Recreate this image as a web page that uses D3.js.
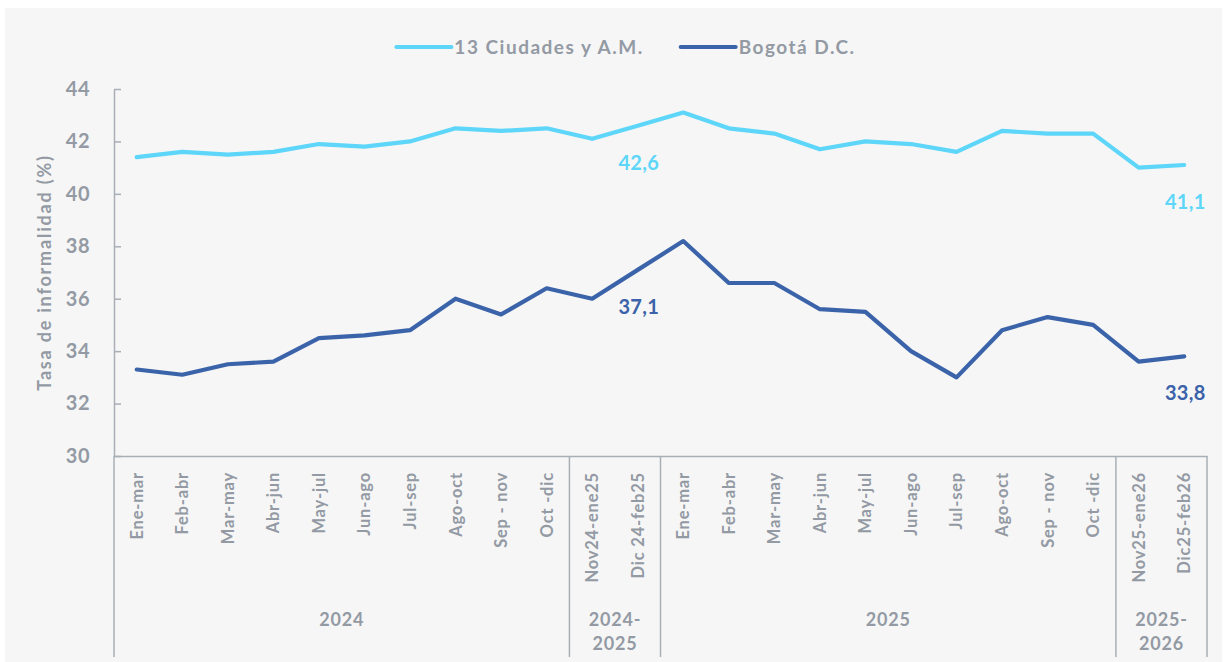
<!DOCTYPE html>
<html>
<head>
<meta charset="utf-8">
<script src="https://cdn.jsdelivr.net/npm/d3@7"></script>
<style>
  html, body { margin: 0; padding: 0; background: #fff; }
  svg { display: block; }
  text { font-family: Lato, 'Open Sans', sans-serif; }
</style>
</head>
<body>
<div id="chart"></div>
<script>
// categories (trimestres moviles)
var categories = [
  'Ene-mar', 'Feb-abr', 'Mar-may', 'Abr-jun', 'May-jul', 'Jun-ago', 'Jul-sep', 'Ago-oct', 'Sep - nov', 'Oct -dic',
  'Nov24-ene25', 'Dic 24-feb25',
  'Ene-mar', 'Feb-abr', 'Mar-may', 'Abr-jun', 'May-jul', 'Jun-ago', 'Jul-sep', 'Ago-oct', 'Sep - nov', 'Oct -dic',
  'Nov25-ene26', 'Dic25-feb26'
];

// year groups under the category labels
var groupLabels = [['2024'], ['2024-', '2025'], ['2025'], ['2025-', '2026']];
var groupSizes = [10, 2, 10, 2];

// series values (%)
var ciudades = [41.4, 41.6, 41.5, 41.6, 41.9, 41.8, 42.0, 42.5, 42.4, 42.5,
                42.1, 42.6,
                43.1, 42.5, 42.3, 41.7, 42.0, 41.9, 41.6, 42.4, 42.3, 42.3,
                41.0, 41.1];
var bogota = [33.3, 33.1, 33.5, 33.6, 34.5, 34.6, 34.8, 36.0, 35.4, 36.4,
              36.0, 37.1,
              38.2, 36.6, 36.6, 35.6, 35.5, 34.0, 33.0, 34.8, 35.3, 35.0,
              33.6, 33.8];

var seriesNames = ['13 Ciudades y A.M.', 'Bogotá D.C.'];
var yTicks = [30, 32, 34, 36, 38, 40, 42, 44];
var labelIndices = [11, 23];

function renderChart() {

  // set the dimensions of the canvas
  var W = 1227, H = 662;
  var grey = '#939aa4';
  var axisGrey = '#a9afb6';
  var colors = ['#5dd6f9', '#3b63a9'];

  var plotLeft = 114, plotRight = 1207, plotTop = 89, plotBottom = 456;

  var svg = d3.select('#chart').append('svg')
      .attr('width', W)
      .attr('height', H);

  // panel background
  svg.append('rect')
      .attr('x', 5).attr('y', 8)
      .attr('width', 1217).attr('height', H - 8)
      .attr('fill', '#f6f6f6');

  // scales
  var x = d3.scaleBand()
      .domain(d3.range(categories.length))
      .range([plotLeft, plotRight]);

  var y = d3.scaleLinear()
      .domain([30, 44])
      .range([plotBottom, plotTop]);

  // y axis
  var yAxis = d3.axisLeft(y)
      .tickValues(yTicks)
      .tickSizeInner(-7)
      .tickSizeOuter(0)
      .tickPadding(24);

  var gy = svg.append('g')
      .attr('transform', 'translate(' + plotLeft + ',0)')
      .call(yAxis);
  gy.select('.domain').attr('stroke', axisGrey).attr('stroke-width', 1.5);
  gy.selectAll('.tick line').attr('stroke', axisGrey).attr('stroke-width', 1.5);
  gy.selectAll('.tick text')
      .attr('fill', grey)
      .attr('font-size', '20px')
      .attr('font-weight', 'bold')
      .attr('letter-spacing', '0.5px')
      .attr('font-family', 'Lato');

  // y axis title
  svg.append('text')
      .attr('transform', 'translate(51,' + ((plotTop + plotBottom) / 2) + ') rotate(-90)')
      .attr('text-anchor', 'middle')
      .attr('fill', grey)
      .attr('font-size', '18px')
      .attr('font-weight', 'bold')
      .attr('letter-spacing', '1.8px')
      .text('Tasa de informalidad (%)');

  // x axis
  var xAxis = d3.axisBottom(x)
      .tickSize(0)
      .tickSizeOuter(0)
      .tickFormat(function(i) { return categories[i]; });

  var gx = svg.append('g')
      .attr('transform', 'translate(0,' + plotBottom + ')')
      .call(xAxis);
  gx.select('.domain').attr('stroke', axisGrey).attr('stroke-width', 1.5);
  gx.selectAll('.tick text')
      .attr('transform', 'rotate(-90)')
      .attr('text-anchor', 'end')
      .attr('x', -16)
      .attr('y', 0)
      .attr('dy', '0.36em')
      .attr('fill', grey)
      .attr('font-size', '16.5px')
      .attr('font-weight', 'bold')
      .attr('letter-spacing', '0.8px')
      .attr('font-family', 'Lato');

  // group separators and year labels
  var bounds = [0];
  groupSizes.forEach(function(n, i) { bounds.push(bounds[i] + n); });

  function edge(i) {
    return i < categories.length ? x(i) : x(categories.length - 1) + x.bandwidth();
  }

  svg.selectAll('line.sep')
      .data(bounds)
    .enter().append('line')
      .attr('class', 'sep')
      .attr('x1', function(d) { return edge(d); })
      .attr('x2', function(d) { return edge(d); })
      .attr('y1', plotBottom)
      .attr('y2', 657)
      .attr('stroke', axisGrey)
      .attr('stroke-width', 1.5);

  var groupText = svg.selectAll('text.group')
      .data(groupLabels)
    .enter().append('text')
      .attr('class', 'group')
      .attr('text-anchor', 'middle')
      .attr('fill', grey)
      .attr('font-size', '18px')
      .attr('font-weight', 'bold')
      .attr('letter-spacing', '0.8px')
      .attr('x', function(d, i) { return (edge(bounds[i]) + edge(bounds[i + 1])) / 2; })
      .attr('y', 626);

  groupText.selectAll('tspan')
      .data(function(d) { return d; })
    .enter().append('tspan')
      .attr('x', function() { return d3.select(this.parentNode).attr('x'); })
      .attr('dy', function(d, j) { return j === 0 ? 0 : 24; })
      .text(function(d) { return d; });

  // lines
  var line = d3.line()
      .x(function(d, i) { return x(i) + x.bandwidth() / 2; })
      .y(function(d) { return y(d); });

  var fmt = d3.formatLocale({decimal: ',', thousands: '.', grouping: [3], currency: ['', '']}).format('.1f');

  [ciudades, bogota].forEach(function(values, s) {
    svg.append('path')
        .datum(values)
        .attr('fill', 'none')
        .attr('stroke', colors[s])
        .attr('stroke-width', 4.2)
        .attr('stroke-linejoin', 'round')
        .attr('stroke-linecap', 'round')
        .attr('d', line);

    // value labels
    svg.selectAll('text.val' + s)
        .data(labelIndices)
      .enter().append('text')
        .attr('class', 'val' + s)
        .attr('x', function(i) { return x(i) + x.bandwidth() / 2 + 1; })
        .attr('y', function(i) { return y(values[i]) + 44; })
        .attr('text-anchor', 'middle')
        .attr('fill', colors[s])
        .attr('font-size', '20px')
        .attr('font-weight', 'bold')
        .attr('letter-spacing', '0.3px')
        .text(function(i) { return fmt(values[i]); });
  });

  // legend
  var legend = svg.append('g');
  var cursor = 0;
  seriesNames.forEach(function(name, s) {
    var item = legend.append('g').attr('transform', 'translate(' + cursor + ',0)');
    item.append('line')
        .attr('x1', 0).attr('x2', 55)
        .attr('y1', 0).attr('y2', 0)
        .attr('stroke', colors[s])
        .attr('stroke-width', 4)
        .attr('stroke-linecap', 'round');
    var t = item.append('text')
        .attr('x', 58)
        .attr('dy', '0.35em')
        .attr('fill', grey)
        .attr('font-size', '19px')
        .attr('font-weight', 'bold')
        .attr('letter-spacing', '1.5px')
        .text(name);
    cursor += 58 + t.node().getComputedTextLength() + 37;
  });
  var legendWidth = cursor - 37;
  legend.attr('transform', 'translate(' + (626 - legendWidth / 2) + ',47)');
}

renderChart();
</script>
</body>
</html>
